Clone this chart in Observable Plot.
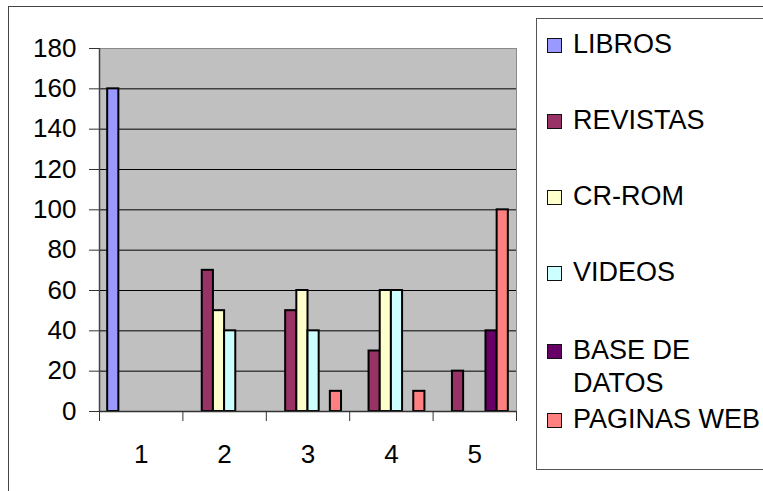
<!DOCTYPE html>
<html>
<head>
<meta charset="utf-8">
<script src="https://cdn.jsdelivr.net/npm/d3@7"></script>
<script src="https://cdn.jsdelivr.net/npm/@observablehq/plot@0.6"></script>
<style>
  html, body { margin: 0; padding: 0; background: #fff; }
  #wrap { position: relative; width: 763px; height: 491px; overflow: hidden; font-family: "Liberation Sans", Arial, sans-serif; }
  #outer { position: absolute; left: 8px; top: 6px; width: 800px; height: 520px; border: 1.5px solid #444; box-sizing: border-box; }
  #chart { position: absolute; left: 0; top: 0; }
  #legend { position: absolute; left: 536px; top: 18px; width: 260px; height: 452px; border: 1.5px solid #555; box-sizing: border-box; background: #fff; }
  .item { position: absolute; left: 0; font-size: 27px; color: #000; line-height: 33px; }
  .sw { position: absolute; left: 10px; width: 15px; height: 15px; border: 1.5px solid #111; box-sizing: border-box; }
  .lab { position: absolute; left: 36px; top: 0; white-space: nowrap; }
</style>
</head>
<body>
<div id="wrap">
  <div id="outer"></div>
  <div id="chart"></div>
  <div id="legend"></div>
</div>
<script>
const categories = [1, 2, 3, 4, 5];
const series = ["LIBROS", "REVISTAS", "CR-ROM", "VIDEOS", "BASE DE DATOS", "PAGINAS WEB"];
const colors = ["#9999FF", "#993366", "#FFFFCC", "#CCFFFF", "#660066", "#FF8080"];
const libros = [160, 0, 0, 0, 0];
const revistas = [0, 70, 50, 30, 20];
const crRom = [0, 50, 60, 60, 0];
const videos = [0, 40, 40, 60, 0];
const baseDatos = [0, 0, 0, 0, 40];
const paginasWeb = [0, 0, 10, 10, 100];
const yTicks = [0, 20, 40, 60, 80, 100, 120, 140, 160, 180];

const seriesValues = [libros, revistas, crRom, videos, baseDatos, paginasWeb];
const barW = 0.134;
const pad = (1 - series.length * barW) / 2;
const rows = [];
seriesValues.forEach((vals, i) => {
  vals.forEach((v, j) => {
    if (v > 0) {
      const x1 = categories[j] - 0.5 + pad + i * barW;
      rows.push({series: series[i], category: categories[j], value: v, x1, x2: x1 + barW});
    }
  });
});
const boundaries = categories.map(c => c - 0.5).concat([categories[categories.length - 1] + 0.5]);

const chart = Plot.plot({
  width: 530,
  height: 491,
  marginLeft: 99,
  marginRight: 14,
  marginTop: 48,
  marginBottom: 80,
  style: {fontFamily: "'Liberation Sans', Arial, sans-serif", fontSize: "26px", background: "transparent", color: "#000"},
  x: {type: "linear", domain: [boundaries[0], boundaries[boundaries.length - 1]]},
  y: {domain: [0, 180]},
  color: {domain: series, range: colors},
  marks: [
    Plot.frame({fill: "#C0C0C0", stroke: "#8a8a8a", strokeWidth: 1}),
    Plot.ruleY(yTicks.filter(t => t > 0 && t < 180), {stroke: "#000", strokeWidth: 1}),
    Plot.rectY(rows, {x1: "x1", x2: "x2", y1: 0, y2: "value", fill: "series", stroke: "#000", strokeWidth: 2}),
    Plot.ruleX([boundaries[0]], {stroke: "#444", strokeWidth: 1.5}),
    Plot.ruleY([0], {stroke: "#333", strokeWidth: 1.5}),
    Plot.axisY({ticks: yTicks, tickSize: 10, tickPadding: 13, label: null, stroke: "#333", fontSize: 26}),
    Plot.axisX({ticks: boundaries, tickSize: 10, tickFormat: () => "", label: null, stroke: "#333"}),
    Plot.axisX({ticks: categories, tickSize: 0, tickPadding: 33, tickFormat: d => String(d), label: null, fontSize: 26})
  ]
});
document.getElementById("chart").appendChild(chart);

// Legend
const legendTops = [27, 103, 179, 255, 333, 402];
const legend = document.getElementById("legend");
series.forEach((s, i) => {
  const item = document.createElement("div");
  item.className = "item";
  item.style.top = (legendTops[i] - 18) + "px";
  const sw = document.createElement("div");
  sw.className = "sw";
  sw.style.background = colors[i];
  sw.style.top = "10px";
  const lab = document.createElement("div");
  lab.className = "lab";
  if (s === "BASE DE DATOS") {
    lab.style.whiteSpace = "normal";
    lab.style.width = "150px";
  }
  lab.textContent = s;
  item.appendChild(sw);
  item.appendChild(lab);
  legend.appendChild(item);
});
</script>
</body>
</html>
